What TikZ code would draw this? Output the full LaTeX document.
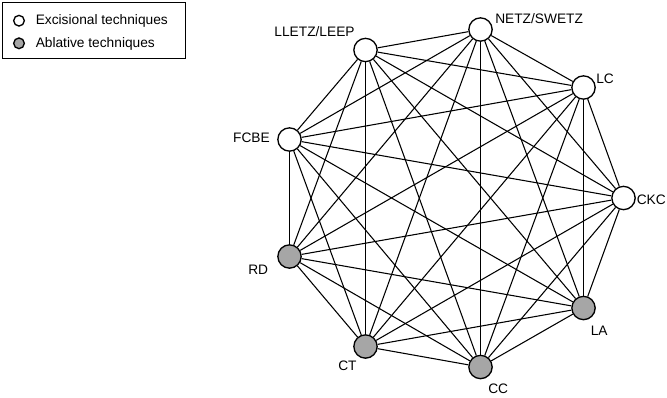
\documentclass[tikz,border=0pt]{standalone}
\usepackage{fontspec}
\setmainfont{Liberation Sans}
\definecolor{ablgray}{RGB}{166,166,166}

\begin{document}
\begin{tikzpicture}[x=0.75pt,y=-0.75pt,font=\fontsize{10.3}{12}\selectfont]
% node looks
\tikzstyle{excision node}=[circle,draw,line width=1pt,minimum size=17.5pt,inner sep=0pt,fill=white]
\tikzstyle{ablation node}=[circle,draw,line width=1pt,minimum size=17.5pt,inner sep=0pt,fill=ablgray]
\tikzset{
key node/.style={circle,draw,line width=1pt,minimum size=8pt,inner sep=0pt},
tag/.style={inner sep=0pt},
link/.style={line width=0.8pt}
}
\useasboundingbox (0,0) rectangle (667,397);

% legend
\draw[line width=0.6pt] (2,2) rectangle (185,58);
\node[key node,fill=white] (keyexc) at (19,20.7) {};
\node[key node,fill=ablgray] (keyabl) at (19,43.3) {};
\node[tag,anchor=west] (keyexctext) at (35.5,21) {Excisional techniques};
\node[tag,anchor=west] (keyabltext) at (35.5,43.5) {Ablative techniques};

% treatments
\node[excision node] (lletz) at (365.5,50) {};
\node[excision node] (netz) at (480.5,29.5) {};
\node[excision node] (lc) at (583.5,87.5) {};
\node[excision node] (ckc) at (623.5,198) {};
\node[ablation node] (la) at (583.5,308) {};
\node[ablation node] (cc) at (480.5,367) {};
\node[ablation node] (ct) at (365.5,346.5) {};
\node[ablation node] (rd) at (289.5,256.5) {};
\node[excision node] (fcbe) at (289.5,139.5) {};

% comparisons
\foreach \b in {netz,lc,ckc,la,cc,ct,rd,fcbe} \draw[link] (lletz) -- (\b);
\foreach \b in {lc,ckc,la,cc,ct,rd,fcbe} \draw[link] (netz) -- (\b);
\foreach \b in {ckc,la,cc,ct,rd,fcbe} \draw[link] (lc) -- (\b);
\foreach \b in {la,cc,ct,rd,fcbe} \draw[link] (ckc) -- (\b);
\foreach \b in {cc,ct,rd,fcbe} \draw[link] (la) -- (\b);
\foreach \b in {ct,rd,fcbe} \draw[link] (cc) -- (\b);
\foreach \b in {rd,fcbe} \draw[link] (ct) -- (\b);
\draw[link] (rd) -- (fcbe);

% names
\node[tag,anchor=base] (lletztext) at (314.5,36) {LLETZ/LEEP};
\node[tag,anchor=base west] (netztext) at (495,23.5) {NETZ/SWETZ};
\node[tag,anchor=base west] (lctext) at (596,83) {LC};
\node[tag,anchor=base west] (ckctext) at (636.5,204) {CKC};
\node[tag,anchor=base west] (latext) at (590.5,335.5) {LA};
\node[tag,anchor=base west] (cctext) at (488,393) {CC};
\node[tag,anchor=base west] (cttext) at (338,370.5) {CT};
\node[tag,anchor=base west] (rdtext) at (248,274) {RD};
\node[tag,anchor=base east] (fcbetext) at (270,142) {FCBE};
\end{tikzpicture}
\end{document}
